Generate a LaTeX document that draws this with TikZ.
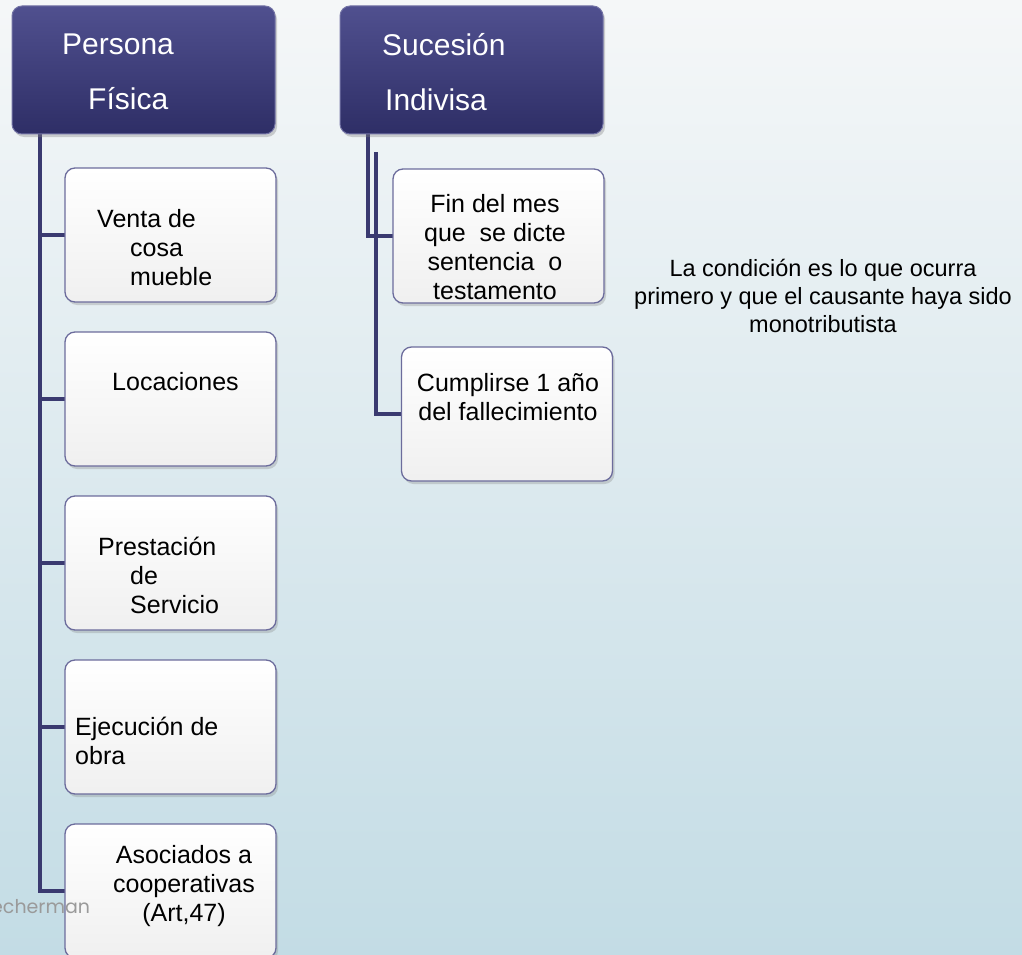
\documentclass[tikz,border=0pt]{standalone}
\usepackage{fontspec}
\setmainfont{Liberation Sans}
\newfontfamily\wmfont{Poppins}
\usetikzlibrary{shadows}
\definecolor{bgtop}{HTML}{F5F7F8}
\definecolor{bgbot}{HTML}{C3DCE5}
\definecolor{navytop}{HTML}{50508F}
\definecolor{navybot}{HTML}{2E2E66}
\definecolor{navyline}{HTML}{3A3A70}
\definecolor{boxedge}{HTML}{6C6C9C}
\definecolor{wm}{HTML}{9A9A9A}
\begin{document}
\begin{tikzpicture}[x=1pt,y=-1pt,
  header/.style={rounded corners=10pt, draw=navytop!80!white, line width=1pt,
    top color=navytop, bottom color=navybot, minimum width=263pt, minimum height=128pt,
    inner sep=0pt, drop shadow={opacity=0.35,shadow xshift=2pt,shadow yshift=-3pt}},
  child/.style={rounded corners=10pt, draw=boxedge, line width=1.3pt,
    top color=white, bottom color=black!6, minimum width=211pt, minimum height=134pt,
    inner sep=0pt, drop shadow={opacity=0.3,shadow xshift=2pt,shadow yshift=-3pt}},
  htext/.style={text=white, font=\fontsize{30}{55}\selectfont, align=left, inner sep=0pt},
  ctext/.style={font=\fontsize{25}{29}\selectfont, inner sep=0pt},
  conn/.style={draw=navyline, line width=4pt},
]
\useasboundingbox (0,0) rectangle (1022,955);
\clip (0,0) rectangle (1022,955);
\shade[top color=bgtop, bottom color=bgbot] (0,0) rectangle (1022,955);

% connector roots
\coordinate (pfroot) at (40,132);
\coordinate (siroot) at (368,132);
\coordinate (siroot2) at (376,152);

% child box positions
\path (170.5,235) coordinate (p1) (170.5,399) coordinate (p2) (170.5,563) coordinate (p3)
      (170.5,727) coordinate (p4) (170.5,891) coordinate (p5)
      (498.5,236) coordinate (pa) (507,414) coordinate (pb);

% connectors
\draw[conn] (pfroot) |- (p1 -| 66,0);
\draw[conn] (pfroot) |- (p2 -| 66,0);
\draw[conn] (pfroot) |- (p3 -| 66,0);
\draw[conn] (pfroot) |- (p4 -| 66,0);
\draw[conn] (pfroot) |- (p5 -| 66,0);
\draw[conn] (siroot) |- (pa -| 394,0);
\draw[conn] (siroot2) |- (pb -| 402,0);

% headers
\node[header] (pf) at (143.5,70) {};
\node[header] (si) at (471.5,70) {};
\node[htext, anchor=west] (pft) at (62,72) {Persona\\\hspace*{26pt}Física};
\node[htext, anchor=west] (sit) at (382,72) {Sucesión\\\hspace*{3pt}Indivisa};

% children
\node[child] (b1) at (p1) {};
\node[child] (b2) at (p2) {};
\node[child] (b3) at (p3) {};
\node[child] (b4) at (p4) {};
\node[child] (b5) at (p5) {};
\node[child] (ba) at (pa) {};
\node[child] (bb) at (pb) {};

% watermark (cut off at the left edge, as in the reference)
\node[text=wm, font=\wmfont\fontsize{19}{21}\selectfont, anchor=base west, inner sep=0pt] (wmk) at (-9,913) {echerman};

% texts
\node[ctext, align=left, anchor=west] (t1) at (97,248) {Venta de\\\hspace*{33pt}cosa\\\hspace*{33pt}mueble};
\node[ctext, align=left, anchor=west] (t2) at (112,382) {Locaciones};
\node[ctext, align=left, anchor=west] (t3) at (98,575) {Prestación\\\hspace*{32pt}de\\\hspace*{32pt}Servicio};
\node[ctext, align=left, anchor=west] (t4) at (75,741) {Ejecución de\\obra};
\node[ctext, align=center] (t5) at (184,886) {Asociados a\\cooperativas\\(Art,47)};
\node[ctext, align=center] (ta) at (495,247) {Fin del mes\\que\ \ se dicte\\sentencia\ \ o\\testamento};
\node[ctext, align=center] (tb) at (508,397) {Cumplirse 1 año\\del fallecimiento};

\node[font=\fontsize{23.5}{28}\selectfont, align=center, inner sep=0pt] (cond) at (823,296)
  {La condición es lo que ocurra\\primero y que el causante haya sido\\monotributista};
\end{tikzpicture}
\end{document}
